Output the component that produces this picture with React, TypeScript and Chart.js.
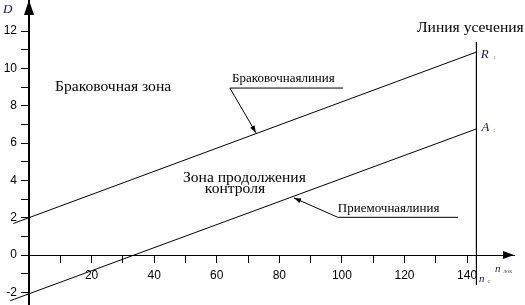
import React, { useEffect, useRef } from "react";
import { Chart, registerables } from "chart.js";

Chart.register(...registerables);

// ---- data ----
const xTickValues = [10, 20, 30, 40, 50, 60, 70, 80, 90, 100, 110, 120, 130, 140];
const xLabelValues = [20, 40, 60, 80, 100, 120, 140];
const yTickValues = [-2, -1, 0, 1, 2, 3, 4, 5, 6, 7, 8, 9, 10, 11, 12];
const yLabelValues = [-2, 0, 2, 4, 6, 8, 10, 12];

const rejectionN = [-5, 143];
const rejectionD = [1.69, 10.88];
const acceptanceN = [-6, 143];
const acceptanceD = [-2.45, 6.76];
const truncationN = [143, 143];
const truncationD = [11.42, -1.6];
const rejLeaderN = [100.4, 64.2, 72.5];
const rejLeaderD = [8.95, 8.95, 6.56];
const accLeaderN = [137.1, 98.7, 84.7];
const accLeaderD = [2.02, 2.02, 3.06];

const SERIF = '"Liberation Serif", "Times New Roman", serif';
const SANS = '"Liberation Sans", Arial, sans-serif';

type Note = { text: string; n: number; d: number; size: number; italic?: boolean; color?: string };
const notes: Note[] = [
  { text: "Браковочная зона", n: 8.3, d: 8.81, size: 15.6 },
  { text: "Браковочнаялиния", n: 64.9, d: 9.26, size: 13 },
  { text: "Линия усечения", n: 124, d: 11.97, size: 15.6 },
  { text: "Зона продолжения", n: 49.2, d: 3.93, size: 15.6 },
  { text: "контроля", n: 56.2, d: 3.32, size: 15.6 },
  { text: "Приемочнаялиния", n: 98.7, d: 2.29, size: 13 },
  { text: "R", n: 144.4, d: 10.56, size: 13, italic: true, color: "#1a1a3a" },
  { text: "A", n: 144.6, d: 6.65, size: 13, italic: true, color: "#1a1a3a" },
  { text: "n", n: 148.9, d: -0.9, size: 11, italic: true, color: "#1a1a3a" },
  { text: "n", n: 143.8, d: -1.43, size: 11, italic: true, color: "#1a1a3a" },
  { text: "D", n: -8.3, d: 12.98, size: 13, italic: true, color: "#1a1a3a" },
];
const subNotes: Note[] = [
  { text: ":", n: 148.5, d: 10.5, size: 7, color: "#a0703a" },
  { text: ":", n: 148.5, d: 6.6, size: 7, color: "#a0703a" },
  { text: "лок", n: 151.6, d: -0.95, size: 6, color: "#555" },
  { text: "c", n: 146.5, d: -1.5, size: 6, color: "#555" },
];

const toXY = (ns: number[], ds: number[]) => ns.map((n, i) => ({ x: n, y: ds[i] }));

const lineDs = (ns: number[], ds: number[]) => ({
  data: toXY(ns, ds),
  showLine: true,
  borderColor: "#000",
  borderWidth: 1,
  pointRadius: 0,
  tension: 0,
  clip: false as any,
});

function arrowHead(ctx: CanvasRenderingContext2D, fx: number, fy: number, tx: number, ty: number, len: number, half: number) {
  const a = Math.atan2(ty - fy, tx - fx);
  ctx.beginPath();
  ctx.moveTo(tx, ty);
  ctx.lineTo(tx - len * Math.cos(a) + half * Math.sin(a), ty - len * Math.sin(a) - half * Math.cos(a));
  ctx.lineTo(tx - len * Math.cos(a) - half * Math.sin(a), ty - len * Math.sin(a) + half * Math.cos(a));
  ctx.closePath();
  ctx.fill();
}

const zeroPad = (s: any) => {
  s.paddingTop = 0;
  s.paddingBottom = 0;
  s.paddingLeft = 0;
  s.paddingRight = 0;
};

const decorPlugin = {
  id: "decor",
  afterDraw(chart: any) {
    const ctx: CanvasRenderingContext2D = chart.ctx;
    const xs = chart.scales.x;
    const ys = chart.scales.y;
    const area = chart.chartArea;
    ctx.save();
    ctx.fillStyle = "#000";
    const x0 = xs.getPixelForValue(0);
    const y0 = ys.getPixelForValue(0);
    arrowHead(ctx, x0, area.bottom, x0, area.top, 15, 5);
    arrowHead(ctx, x0, y0, area.right, y0, 11, 4);
    const leaders = [
      [rejLeaderN, rejLeaderD],
      [accLeaderN, accLeaderD],
    ];
    for (const [ns, ds] of leaders) {
      const k = ns.length - 1;
      arrowHead(
        ctx,
        xs.getPixelForValue(ns[k - 1]),
        ys.getPixelForValue(ds[k - 1]),
        xs.getPixelForValue(ns[k]),
        ys.getPixelForValue(ds[k]),
        7,
        2.5
      );
    }
    ctx.textAlign = "left";
    ctx.textBaseline = "alphabetic";
    for (const t of [...notes, ...subNotes]) {
      ctx.font = `${t.italic ? "italic " : ""}${t.size}px ${SERIF}`;
      ctx.fillStyle = t.color || "#000";
      ctx.fillText(t.text, xs.getPixelForValue(t.n), ys.getPixelForValue(t.d));
    }
    ctx.restore();
  },
};

export default function App() {
  const ref = useRef<HTMLCanvasElement | null>(null);
  useEffect(() => {
    if (!ref.current) return;
    const chart = new Chart(ref.current, {
      type: "scatter",
      data: {
        datasets: [
          lineDs(rejectionN, rejectionD),
          lineDs(acceptanceN, acceptanceD),
          lineDs(truncationN, truncationD),
          lineDs(rejLeaderN, rejLeaderD),
          lineDs(accLeaderN, accLeaderD),
        ] as any,
      },
      options: {
        animation: false,
        responsive: false,
        devicePixelRatio: 1,
        layout: { padding: { left: 0, right: 11, top: 0, bottom: 0 } },
        plugins: { legend: { display: false }, tooltip: { enabled: false } },
        events: [],
        scales: {
          x: {
            type: "linear",
            min: 0,
            max: 155,
            position: { y: 0 } as any,
            afterBuildTicks: (s: any) => {
              s.ticks = xTickValues.map((v) => ({ value: v }));
            },
            afterFit: zeroPad,
            ticks: {
              autoSkip: false,
              maxRotation: 0,
              padding: 6,
              color: "#000",
              font: { family: SANS, size: 12 },
              callback: (v: any) => (xLabelValues.includes(Number(v)) ? String(v) : ""),
            },
            grid: { drawOnChartArea: false, drawTicks: true, tickLength: 7, color: "#000", lineWidth: 1 },
            border: { display: true, color: "#000", width: 1 },
          },
          y: {
            type: "linear",
            min: -2.68,
            max: 13.67,
            position: "left",
            afterBuildTicks: (s: any) => {
              s.ticks = yTickValues.map((v) => ({ value: v }));
            },
            afterFit: (s: any) => {
              zeroPad(s);
              s.width = 29;
            },
            ticks: {
              autoSkip: false,
              padding: 4,
              color: "#000",
              font: { family: SANS, size: 12 },
              callback: (v: any) => (yLabelValues.includes(Number(v)) ? String(v) : ""),
            },
            grid: { drawOnChartArea: false, drawTicks: true, tickLength: 8, color: "#000", lineWidth: 1 },
            border: { display: true, color: "#000", width: 2 },
          },
        },
      },
      plugins: [decorPlugin],
    });
    return () => chart.destroy();
  }, []);
  return (
    <div style={{ position: "fixed", left: 0, top: 0, width: 525, height: 305, background: "#fff" }}>
      <canvas ref={ref} width={525} height={305} style={{ width: 525, height: 305, display: "block" }} />
    </div>
  );
}
